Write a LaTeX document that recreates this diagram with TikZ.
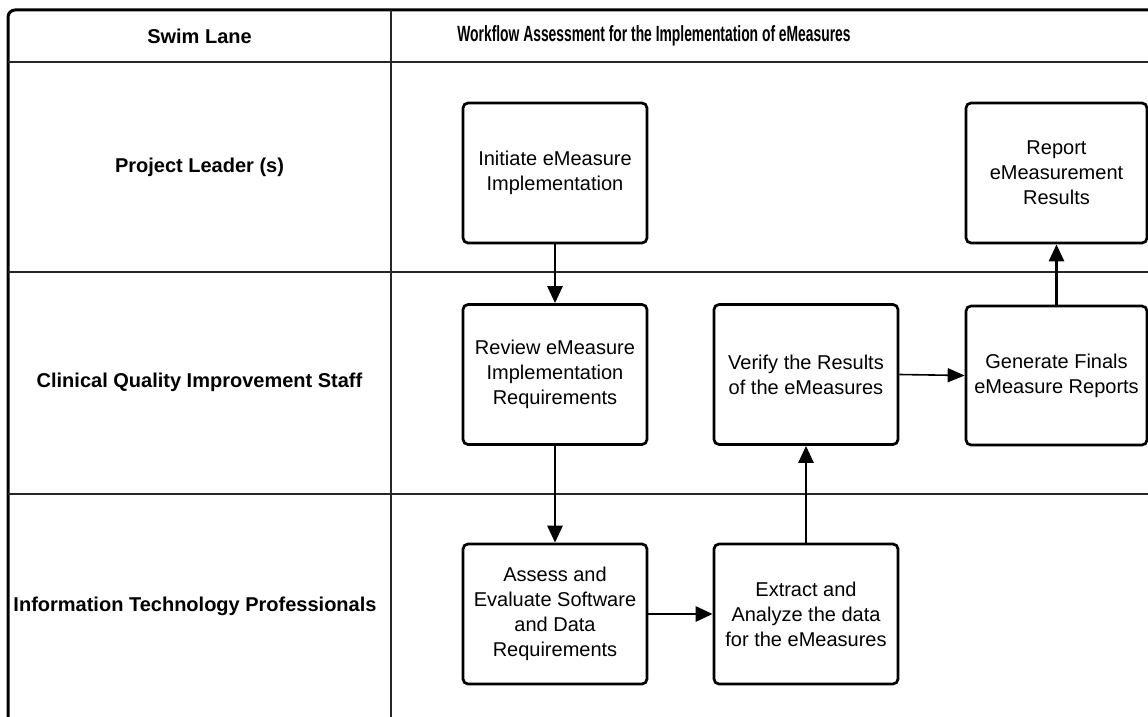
\documentclass[tikz,border=0pt]{standalone}
\usepackage{fontspec}
\usepackage{graphicx}
\setmainfont{Liberation Sans}
\usetikzlibrary{arrows.meta}

\tikzset{
  task/.style={draw, rectangle, rounded corners=5pt, line width=2.7pt,
    minimum width=184pt, minimum height=140pt, inner sep=0pt,
    align=center, font=\fontsize{20}{25}\selectfont},
  lanelabel/.style={font=\bfseries\fontsize{20}{24}\selectfont, inner sep=0pt},
  flow/.style={line width=2.7pt, -{Triangle[length=17pt,width=15pt]}},
  thinflow/.style={line width=1.6pt, -{Triangle[length=17pt,width=14pt]}},
  divider/.style={line width=1.5pt, draw=black!85},
}

\begin{document}
\begin{tikzpicture}[x=1pt, y=-1pt]
  \useasboundingbox (0,0) rectangle (1148,717);
  \clip (0,0) rectangle (1148,717);
  \fill[white] (0,0) rectangle (1148,717);

  % outer frame (top and left edges)
  \draw[line width=3pt, rounded corners=7pt] (8,740) -- (8,10) -- (1170,10);
  % header row and swim-lane separators
  \draw[divider] (8,62) -- (1170,62);
  \draw[divider] (8,272) -- (1170,272);
  \draw[divider] (8,494) -- (1170,494);
  % column divider between lane titles and workflow
  \draw[divider] (391,10) -- (391,740);

  % header texts
  \node[lanelabel] (hlane) at (199.5,36) {Swim Lane};
  \node[inner sep=0pt] (hflow) at (654,36)
    {\scalebox{0.63}[1]{\bfseries\fontsize{22}{24}\selectfont Workflow Assessment for the Implementation of eMeasures}};

  % lane titles
  \node[lanelabel] (lane1) at (199.5,167) {Project Leader (s)};
  \node[lanelabel] (lane2) at (199.5,382) {Clinical Quality Improvement Staff};
  \node[lanelabel] (lane3) at (195,606) {Information Technology Professionals};

  % workflow steps
  \node[task] (init)    at (555,173)   {Initiate eMeasure\\Implementation};
  \node[task] (review)  at (555,374.5) {Review eMeasure\\Implementation\\Requirements};
  \node[task] (assess)  at (555,614)   {Assess and\\Evaluate Software\\and Data\\Requirements};
  \node[task] (extract) at (806,614)   {Extract and\\Analyze the data\\for the eMeasures};
  \node[task] (verify)  at (806,374.5) {Verify the Results\\of the eMeasures};
  \node[task, minimum width=181pt, minimum height=139pt] (gen) at (1056.5,375.5)
    {Generate Finals\\eMeasure Reports};
  \node[task, minimum width=181pt] (report) at (1056.5,173)
    {Report\\eMeasurement\\Results};

  % connectors
  \draw[flow] (init.south) -- (review.north);
  \draw[flow] (review.south) -- (assess.north);
  \draw[flow] (assess.east) -- (extract.west);
  \draw[flow] (extract.north) -- (verify.south);
  \draw[thinflow] (verify.east) -- (gen.west);
  \draw[flow] (gen.north) -- (report.south);
\end{tikzpicture}
\end{document}
